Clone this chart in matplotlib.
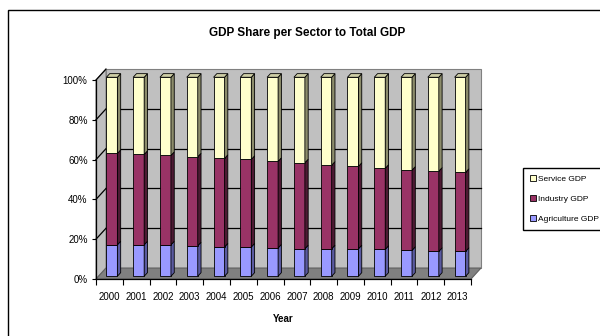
import matplotlib
matplotlib.use("Agg")
import matplotlib.pyplot as plt
from matplotlib.patches import Polygon, Rectangle, Patch
import numpy as np

plt.rcParams['font.family'] = ['Liberation Sans', 'DejaVu Sans']

# GDP share per sector (%), read per year
years = [2000, 2001, 2002, 2003, 2004, 2005, 2006, 2007, 2008, 2009, 2010, 2011, 2012, 2013]
agriculture = [15.8, 15.8, 15.8, 15.3, 14.7, 14.7, 14.2, 13.8, 13.8, 13.8, 13.5, 13.0, 12.5, 12.5]
industry = [45.9, 45.4, 44.9, 44.7, 44.5, 44.0, 43.5, 43.2, 42.0, 41.4, 40.7, 40.3, 40.3, 39.7]
service = [38.3, 38.8, 39.3, 40.0, 40.8, 41.3, 42.3, 43.0, 44.2, 44.8, 45.8, 46.7, 47.2, 47.8]
series_names = ['Agriculture GDP', 'Industry GDP', 'Service GDP']
y_ticks = [0, 20, 40, 60, 80, 100]

# front / side / top colours for each series
front_cols = ['#9999FF', '#993366', '#FFFFCC']
side_cols = ['#5A5AA0', '#4D1A33', '#8C8C6B']
top_col = '#CFCFA6'

fig = plt.figure(figsize=(6, 3.36), dpi=100)
ax = fig.add_axes([96 / 600, 57 / 336, 375 / 600, 199 / 336])
ax.set_facecolor('none')

n = len(years)
ax.set_xlim(0, n)
ax.set_ylim(0, 100)

# oblique depth of the 3d box (category units, percent units)
dx, dy = 0.373, 5.5
f0, f1 = 0.25, 0.58   # bar front / back depth fractions
w = 0.41


def face(pts, col, ec='black', lw=0.6, z=2):
    ax.add_patch(Polygon(pts, closed=True, fc=col, ec=ec, lw=lw, clip_on=False, zorder=z))


# walls and floor
face([(dx, dy), (n + dx, dy), (n + dx, 100 + dy), (dx, 100 + dy)], '#C0C0C0', ec='#808080', lw=0.8, z=1)
face([(0, 0), (dx, dy), (dx, 100 + dy), (0, 100)], '#C0C0C0', ec='#808080', lw=0.8, z=1)
face([(0, 0), (n, 0), (n + dx, dy), (dx, dy)], '#808080', ec='#606060', lw=0.8, z=1)

# gridlines on back and side wall
for t in y_ticks[1:-1]:
    ax.plot([dx, n + dx], [t + dy, t + dy], color='black', lw=0.9, clip_on=False, zorder=1.5)
for t in y_ticks[1:]:
    ax.plot([0, dx], [t, t + dy], color='black', lw=0.9, clip_on=False, zorder=1.5)

# stacked 3d columns
stack = np.vstack([agriculture, industry, service])
totals = stack.sum(axis=0)
pct = stack / totals * 100
cum = np.vstack([np.zeros(n), np.cumsum(pct, axis=0)])
ox0, oy0 = f0 * dx, f0 * dy
ox1, oy1 = f1 * dx, f1 * dy
for i in range(n):
    x0 = i + 0.5 - w / 2 + ox0
    x1 = x0 + w
    for s in range(3):
        b = cum[s, i] + oy0
        t = cum[s + 1, i] + oy0
        face([(x0, b), (x1, b), (x1, t), (x0, t)], front_cols[s], z=3)
        face([(x1, b), (x1 + ox1 - ox0, b + oy1 - oy0), (x1 + ox1 - ox0, t + oy1 - oy0), (x1, t)],
             side_cols[s], z=3)
    t = cum[3, i] + oy0
    face([(x0, t), (x1, t), (x1 + ox1 - ox0, t + oy1 - oy0), (x0 + ox1 - ox0, t + oy1 - oy0)],
         top_col, z=3)

# axes
for side in ['top', 'right']:
    ax.spines[side].set_visible(False)
for side in ['left', 'bottom']:
    ax.spines[side].set_color('black')
    ax.spines[side].set_linewidth(0.9)
    ax.spines[side].set_zorder(4)

ax.set_yticks(y_ticks)
ax.set_yticklabels([f'{t}%' for t in y_ticks], fontsize=7)
ax.set_xticks(np.arange(n + 1))
ax.set_xticklabels([])
ax.set_xticks(np.arange(n) + 0.5, minor=True)
ax.set_xticklabels([str(y) for y in years], minor=True, fontsize=7)
ax.tick_params(axis='y', direction='out', length=3, width=0.8, pad=3)
ax.tick_params(axis='x', which='major', direction='out', length=4, width=0.8)
ax.tick_params(axis='x', which='minor', length=0, pad=9)

ax.set_xlabel('Year', fontsize=7, fontweight='bold', labelpad=9)
fig.text(307 / 600, 1 - 33 / 336, 'GDP Share per Sector to Total GDP', ha='center', va='center',
         fontsize=8.5, fontweight='bold')

# chart border
fig.patches.append(Rectangle((8 / 600, -0.1), 1.2, 1 - 10 / 336 + 0.1, transform=fig.transFigure,
                             fill=False, ec='black', lw=1.0))

handles = [Patch(fc=front_cols[s], ec='black', lw=0.6, label=series_names[s]) for s in [2, 1, 0]]
fig.legend(handles=handles, loc='upper left', bbox_to_anchor=(523 / 600, 1 - 168 / 336),
           fontsize=6, frameon=True, fancybox=False, edgecolor='black', framealpha=1,
           handlelength=0.8, handleheight=0.8, handletextpad=0.2, labelspacing=1.45,
           borderpad=0.8, borderaxespad=0)

fig.savefig('out.png', dpi=100)
